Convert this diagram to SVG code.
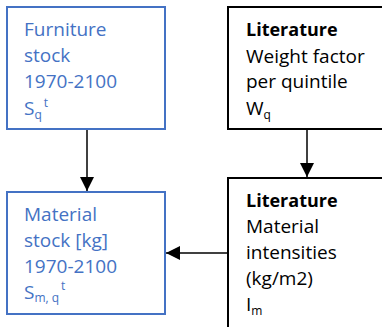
<svg xmlns="http://www.w3.org/2000/svg" width="382" height="327" viewBox="0 0 382 327">
<defs>
<style>
.blue{fill:#fff;stroke:#4472C4;stroke-width:2}
.black{fill:#fff;stroke:#000;stroke-width:2}
text{font-family:"Open Sans","Liberation Sans",sans-serif;font-size:19px}
.bt{fill:#4472C4}
.kt{fill:#000}
.b{font-weight:bold;font-size:18px}
.sm{font-size:12px}
.conn{stroke:#000;stroke-width:1.5;fill:none}
</style>
<marker id="ah" viewBox="0 0 14 14" refX="14" refY="7" markerWidth="14" markerHeight="14" markerUnits="userSpaceOnUse" orient="auto">
<path d="M0,0 L14,7 L0,14 Z" fill="#000"/>
</marker>
</defs>
<g id="connectors">
<line class="conn" x1="87" y1="130" x2="87" y2="191" marker-end="url(#ah)"/>
<line class="conn" x1="307" y1="130" x2="307" y2="177" marker-end="url(#ah)"/>
<line class="conn" x1="227" y1="253" x2="166" y2="253" marker-end="url(#ah)"/>
</g>
<g id="furniture-stock">
<rect class="blue" x="7" y="7" width="158" height="122"/>
<text class="bt" x="24" y="36">Furniture</text>
<text class="bt" x="24" y="62">stock</text>
<text class="bt" x="24" y="88">1970-2100</text>
<text class="bt" x="24" y="115">S<tspan class="sm" dy="4">q</tspan><tspan class="sm" dx="2" dy="-12">t</tspan></text>
</g>
<g id="weight-factor">
<rect class="black" x="228" y="7" width="170" height="122"/>
<text class="kt b" x="246" y="36">Literature</text>
<text class="kt" x="246" y="63">Weight factor</text>
<text class="kt" x="246" y="88">per quintile</text>
<text class="kt" x="246" y="115">W<tspan class="sm" dy="4">q</tspan></text>
</g>
<g id="material-stock">
<rect class="blue" x="7" y="192" width="158" height="122"/>
<text class="bt" x="24" y="221">Material</text>
<text class="bt" x="24" y="247">stock [kg]</text>
<text class="bt" x="24" y="273">1970-2100</text>
<text class="bt" x="24" y="299">S<tspan class="sm" dy="3">m, q</tspan><tspan class="sm" dx="2" dy="-12" font-size="11">t</tspan></text>
</g>
<g id="material-intensities">
<rect class="black" x="228" y="178" width="170" height="170"/>
<text class="kt b" x="246" y="207">Literature</text>
<text class="kt" x="246" y="233">Material</text>
<text class="kt" x="246" y="259">intensities</text>
<text class="kt" x="246" y="285">(kg/m2)</text>
<text class="kt" x="246" y="311">I<tspan class="sm" dy="4">m</tspan></text>
</g>
</svg>
